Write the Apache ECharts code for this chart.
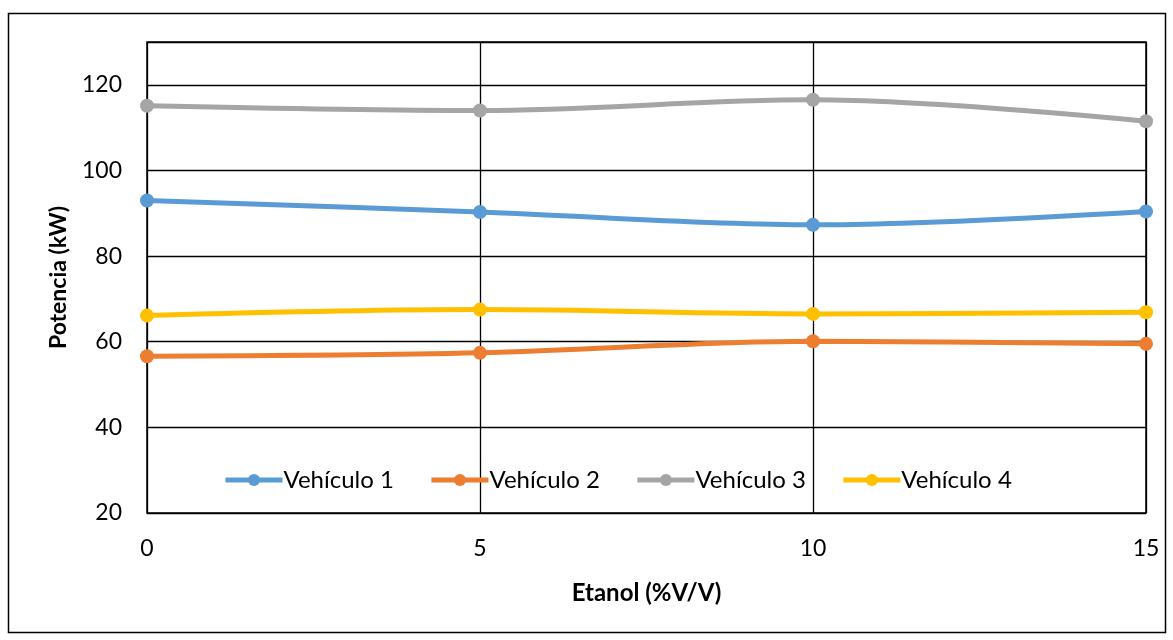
<!DOCTYPE html>
<html>
<head>
<meta charset="utf-8">
<script src="https://cdn.jsdelivr.net/npm/echarts@6/dist/echarts.min.js"></script>
<style>
  html, body { margin: 0; padding: 0; background: #fff; }
  #chart { width: 1173px; height: 640px; }
</style>
</head>
<body>
<div id="chart"></div>
<script>
// Ethanol blend (% V/V) on the x axis
const etanol = [0, 5, 10, 15];
// Power (kW) per vehicle
const vehiculo1 = [93.0, 90.3, 87.3, 90.4];
const vehiculo2 = [56.6, 57.4, 60.1, 59.5];
const vehiculo3 = [115.1, 114.0, 116.5, 111.5];
const vehiculo4 = [66.1, 67.5, 66.5, 66.9];
const seriesNames = ['Vehículo 1', 'Vehículo 2', 'Vehículo 3', 'Vehículo 4'];
const seriesColors = ['#5B9BD5', '#ED7D31', '#A5A5A5', '#FFC000'];
const xTicks = [0, 5, 10, 15];
const yTicks = [20, 40, 60, 80, 100, 120];

const FONT = 'Lato, "Open Sans", sans-serif';
const chart = echarts.init(document.getElementById('chart'), null, { renderer: 'canvas' });

const allValues = [vehiculo1, vehiculo2, vehiculo3, vehiculo4];
const series = allValues.map((vals, i) => ({
  name: seriesNames[i],
  type: 'line',
  smooth: 0.35,
  data: etanol.map((x, j) => [x, vals[j]]),
  symbol: 'circle',
  symbolSize: 14,
  lineStyle: { width: 5, color: seriesColors[i] },
  itemStyle: { color: seriesColors[i] },
  z: 3
}));

chart.setOption({
  animation: false,
  backgroundColor: '#ffffff',
  graphic: [{
    type: 'rect',
    shape: { x: 8.5, y: 13.5, width: 1157, height: 619 },
    style: { fill: 'none', stroke: '#000', lineWidth: 1.5 },
    silent: true
  }],
  grid: {
    left: 147, right: 27, top: 42, bottom: 127,
    show: true, borderColor: '#000', borderWidth: 1.5, backgroundColor: 'transparent'
  },
  legend: {
    left: 218, top: 463,
    itemWidth: 57, itemHeight: 15, itemGap: 35,
    lineStyle: { width: 5 },
    textStyle: { fontFamily: FONT, fontSize: 24, color: '#000', padding: [0, 0, 0, -4] },
    data: seriesNames
  },
  xAxis: {
    type: 'value',
    min: xTicks[0], max: xTicks[xTicks.length - 1], interval: 5,
    name: 'Etanol (%V/V)',
    nameLocation: 'middle', nameGap: 68,
    nameTextStyle: { fontFamily: FONT, fontSize: 24, fontWeight: 'bold', color: '#000' },
    axisLine: { show: false },
    axisTick: { show: false },
    axisLabel: { fontFamily: FONT, fontSize: 23, color: '#000', margin: 24 },
    splitLine: { show: true, lineStyle: { color: '#000', width: 1.3 } }
  },
  yAxis: {
    type: 'value',
    min: 20, max: 130, interval: 20,
    name: 'Potencia (kW)',
    nameLocation: 'middle', nameGap: 77, nameRotate: 90,
    nameTextStyle: { fontFamily: FONT, fontSize: 23, fontWeight: 'bold', color: '#000' },
    axisLine: { show: false },
    axisTick: { show: false },
    axisLabel: {
      fontFamily: FONT, fontSize: 23, color: '#000', margin: 25,
      formatter: v => (yTicks.indexOf(v) >= 0 ? String(v) : '')
    },
    splitLine: { show: true, lineStyle: { color: '#000', width: 1.3 } }
  },
  series: series
});
</script>
</body>
</html>
